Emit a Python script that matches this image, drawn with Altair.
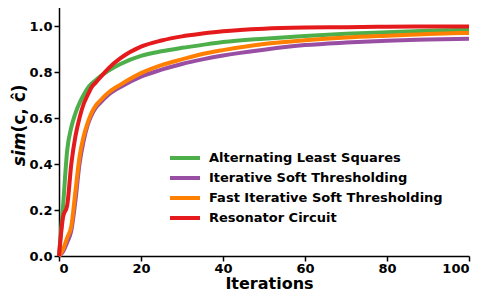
import altair as alt
import pandas as pd

iterations = [0, 1, 2, 3, 4, 5, 6, 7, 8, 9, 10, 12, 15, 20, 25, 30, 35, 40, 50, 60, 70, 80, 90, 100]
als = [0, 0.22, 0.46, 0.56, 0.62, 0.665, 0.70, 0.73, 0.75, 0.765, 0.78, 0.805, 0.835, 0.87, 0.89,
       0.905, 0.918, 0.93, 0.945, 0.957, 0.966, 0.973, 0.979, 0.984]
ist = [0, 0.02, 0.06, 0.11, 0.24, 0.40, 0.50, 0.57, 0.615, 0.645, 0.665, 0.70, 0.735, 0.78, 0.81,
       0.835, 0.855, 0.872, 0.897, 0.917, 0.928, 0.936, 0.941, 0.945]
fist = [0, 0.03, 0.08, 0.13, 0.28, 0.43, 0.52, 0.58, 0.625, 0.655, 0.675, 0.71, 0.745, 0.795, 0.83,
        0.855, 0.878, 0.895, 0.922, 0.938, 0.950, 0.958, 0.965, 0.970]
resonator = [0, 0.17, 0.22, 0.40, 0.52, 0.60, 0.66, 0.70, 0.735, 0.755, 0.775, 0.815, 0.86, 0.91, 0.937,
             0.955, 0.967, 0.977, 0.988, 0.993, 0.995, 0.997, 0.998, 0.998]

series_names = ["Alternating Least Squares", "Iterative Soft Thresholding",
                "Fast Iterative Soft Thresholding", "Resonator Circuit"]
series_colors = ["#4daf4a", "#984ea3", "#ff7f00", "#e41a1c"]
x_ticks = [0, 20, 40, 60, 80, 100]
y_ticks = [0.0, 0.2, 0.4, 0.6, 0.8, 1.0]

rows = []
for name, vals in zip(series_names, [als, ist, fist, resonator]):
    for it, v in zip(iterations, vals):
        rows.append({"iter": it, "sim": v, "method": name})
df = pd.DataFrame(rows)

FONT = "DejaVu Sans"

color = alt.Color(
    "method:N",
    scale=alt.Scale(domain=series_names, range=series_colors),
    legend=alt.Legend(
        title=None, orient="none", legendX=119, legendY=148,
        labelFont=FONT, labelFontWeight="bold", labelFontSize=13, labelColor="black",
        symbolType="M-3,0H3", symbolSize=100, symbolStrokeWidth=4, labelOffset=17,
        rowPadding=4, labelLimit=400, padding=0,
    ),
)
x = alt.X("iter:Q", scale=alt.Scale(domain=[0, 100], nice=False),
          axis=alt.Axis(values=x_ticks, title=None, format="d", labelPadding=1))
y = alt.Y("sim:Q", scale=alt.Scale(domain=[0, 1.1], nice=False),
          axis=alt.Axis(values=y_ticks, format=".1f", title=None, labelPadding=2))

layers = []
for name in series_names:
    layers.append(
        alt.Chart(df).transform_filter(alt.datum.method == name)
        .mark_line(strokeWidth=4, interpolate="monotone")
        .encode(x=x, y=y, color=color)
    )

title_df = pd.DataFrame([{"a": 1}])
sim_text = alt.Chart(title_df).mark_text(
    text="sim", angle=270, align="right", baseline="middle", font=FONT,
    fontSize=17, fontWeight="bold", fontStyle="italic", color="black"
).encode(x=alt.value(-39), y=alt.value(129.5))
rest_text = alt.Chart(title_df).mark_text(
    text="(c, ĉ)", angle=270, align="left", baseline="middle", font=FONT,
    fontSize=17, fontWeight="bold", color="black"
).encode(x=alt.value(-39), y=alt.value(129.5))
x_title = alt.Chart(title_df).mark_text(
    text="Iterations", align="center", baseline="alphabetic", font=FONT,
    fontSize=16, fontWeight="bold", color="black"
).encode(x=alt.value(210.5), y=alt.value(286))

chart = alt.layer(*layers, sim_text, rest_text, x_title).properties(
    width=410, height=253,
    padding={"left": 51, "top": -5, "right": 13, "bottom": 35},
    autosize=alt.AutoSizeParams(type="none"),
).configure_view(stroke=None).configure_axis(
    grid=False, domainColor="black", domainWidth=1.5, tickColor="black", tickWidth=1.5,
    tickSize=5, labelFont=FONT, labelFontWeight="bold", labelFontSize=13, labelColor="black",
)

chart.save("out.html", embed_options={"renderer": "svg", "actions": False})
